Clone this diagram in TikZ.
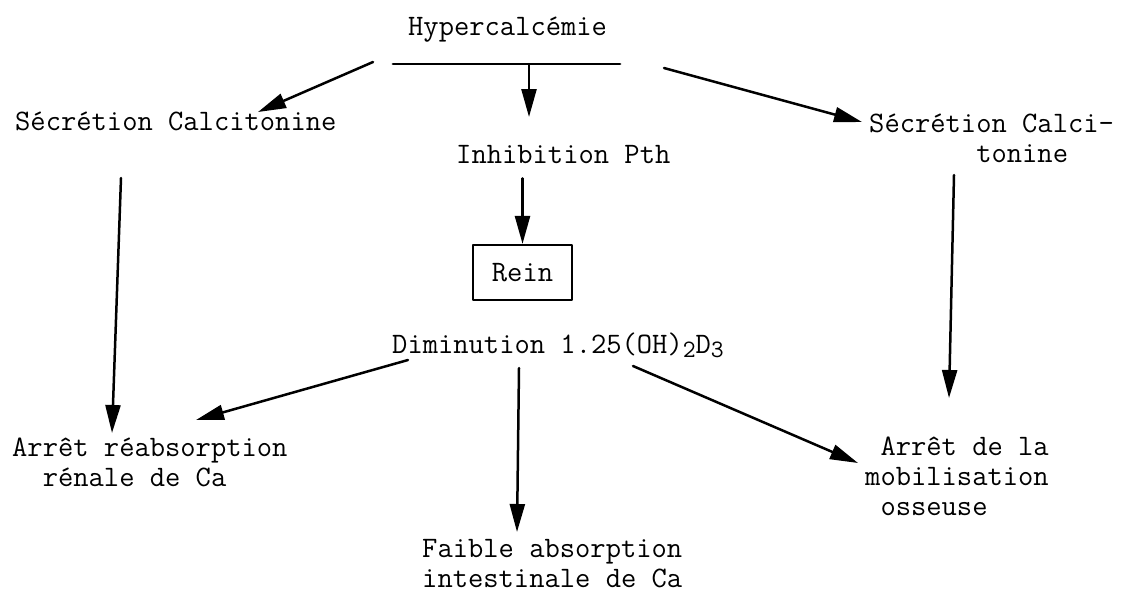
\documentclass[tikz,border=0pt]{standalone}
\usetikzlibrary{arrows.meta}
\newcommand{\indice}[1]{\raisebox{-0.35ex}{\fontsize{25}{25}\selectfont #1}}
\tikzset{
  txt/.style={anchor=base west, inner sep=0pt, font=\ttfamily\fontsize{29.7}{30}\selectfont},
  arr/.style={->, line width=2.5pt},
}
\begin{document}
\begin{tikzpicture}[x=1pt, y=-1pt, line join=round, line cap=round, >={Triangle[length=28pt,width=15pt]}]
	\useasboundingbox[fill=white] (0,0) rectangle (1130,598);
	% textes (base = derniere ligne)
	\node[txt] (hyp) at (408,35) {Hypercalcémie};
	\node[txt] (secl) at (15,130) {Sécrétion Calcitonine};
	\node[txt, align=left] (secr) at (869,162) {Sécrétion Calci-\\~~~~~~~tonine};
	\node[txt] (pth) at (456,163) {Inhibition Pth};
	\node[draw, line width=2.2pt, minimum width=99pt, minimum height=55pt, inner sep=0pt,
		font=\ttfamily\fontsize{29.7}{30}\selectfont] (rein) at (522.5,272.5) {Rein};
	\node[txt] (dim) at (392,353) {Diminution 1.25(OH)\indice{2}D\indice{3}};
	\node[txt, align=left] (reab) at (12,486) {Arrêt réabsorption\\~~rénale de Ca};
	\node[txt, align=left] (mob) at (865,515) {~Arrêt de la\\mobilisation\\~osseuse};
	\node[txt, align=left] (abs) at (422,587) {Faible absorption\\intestinale de Ca};
	% barre sous Hypercalcemie
	\coordinate (bl) at (393,64);
	\coordinate (br) at (620,64);
	\draw[line width=2.8pt] (bl) -- (br);
	% points de depart et d'arrivee des fleches
	\foreach \n/\x/\y in {hl/373/62, hm/529/64, hr/664/68, tl/258/112, tm/529/117, tr/862/122,
		sl/121/178, sr/954/175, el/112/433, er/949/398,
		dl/408/360, dm/519/368, dr/633/366, fl/196/420, fm/517/532, fr/858/463}
	\coordinate (\n) at (\x,\y);
	\draw[arr] (hl) -- (tl);
	\draw[arr] (hm) -- (tm);
	\draw[arr] (hr) -- (tr);
	\draw[arr] (sl) -- (el);
	\draw[arr] (sr) -- (er);
	\draw[arr, shorten <=15pt] (pth.south -| rein.north) -- (rein.north);
	\draw[arr] (dl) -- (fl);
	\draw[arr] (dm) -- (fm);
	\draw[arr] (dr) -- (fr);
\end{tikzpicture}
\end{document}
